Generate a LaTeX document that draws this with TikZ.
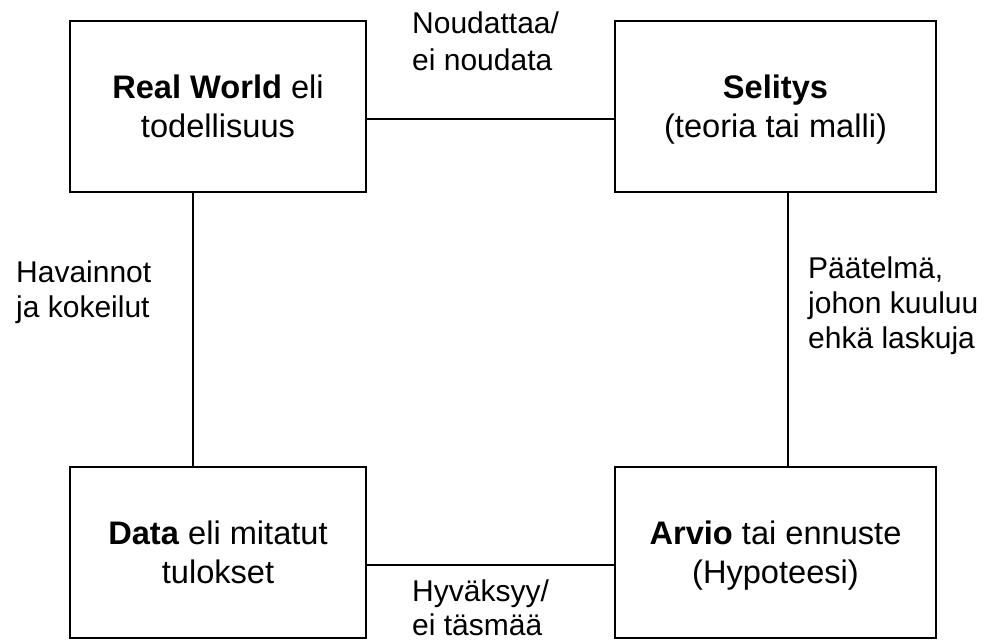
\documentclass[tikz,border=0pt]{standalone}
\usepackage{fontspec}
\setmainfont{Liberation Sans}
\begin{document}
\begin{tikzpicture}[x=1pt,y=-1pt,
  box/.style={draw, line width=1.6pt, minimum width=296pt, minimum height=171pt, inner sep=0pt, align=center, text depth=0pt, font=\fontsize{32.6}{39}\selectfont},
  lab/.style={inner sep=0pt, align=left, anchor=base west, font=\fontsize{30}{35}\selectfont},
  conn/.style={line width=1.6pt}]
\useasboundingbox (0,0) rectangle (984,641);
\node[box] (rw) at (218,106.5) {\textbf{Real World} eli\\todellisuus};
\node[box, minimum width=321pt] (sel) at (775.5,106.5) {\textbf{Selitys}\\(teoria tai malli)};
\node[box] (data) at (218,552.5) {\textbf{Data} eli mitatut\\tulokset};
\node[box, minimum width=321pt] (arv) at (775.5,552.5) {\textbf{Arvio} tai ennuste\\(Hypoteesi)};
\coordinate (ytop) at (0,119);
\coordinate (ybot) at (0,565);
\coordinate (xl) at (193,0);
\coordinate (xr) at (788,0);
\draw[conn] (rw.east |- ytop) -- (sel.west |- ytop);
\draw[conn] (rw.south -| xl) -- (data.north -| xl);
\draw[conn] (sel.south -| xr) -- (arv.north -| xr);
\draw[conn] (data.east |- ybot) -- (arv.west |- ybot);
\node[lab, font=\fontsize{30}{37}\selectfont] (l1) at (412,70) {Noudattaa/\\ei noudata};
\node[lab] (l2) at (16,317) {Havainnot\\ja kokeilut};
\node[lab] (l3) at (808,348) {Päätelmä,\\johon kuuluu\\ehkä laskuja};
\node[lab, font=\fontsize{30}{34}\selectfont] (l4) at (412,635) {Hyväksyy/\\ei täsmää};
\end{tikzpicture}
\end{document}
